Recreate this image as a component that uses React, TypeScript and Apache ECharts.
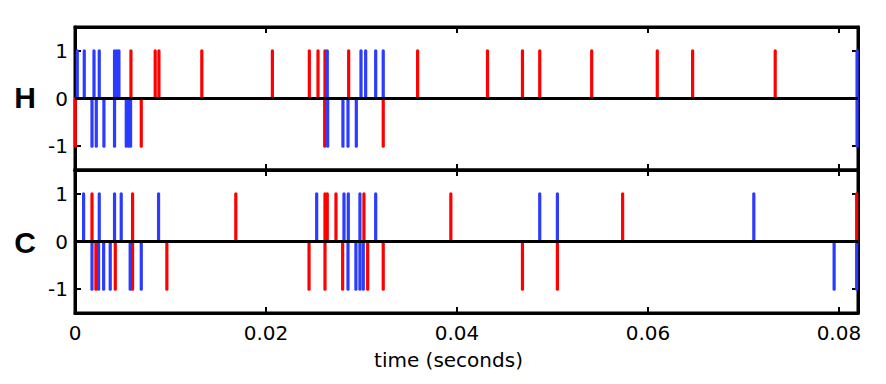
import React, { useEffect, useRef } from "react";
import * as echarts from "echarts";

// spike times (seconds)
const hRedUp = [0.00586, 0.0084, 0.00879, 0.01328, 0.02067, 0.02454, 0.02545, 0.02618, 0.02866, 0.03588, 0.0432, 0.04686, 0.04867, 0.05411, 0.06098, 0.06468, 0.07333];
const hRedDown = [0.00003, 0.00694, 0.02615, 0.03228];
const hBlueUp = [0.00024, 0.00097, 0.00199, 0.00254, 0.00414, 0.00439, 0.0046, 0.02642, 0.02995, 0.03044, 0.03149, 0.03228, 0.0819];
const hBlueDown = [0.00178, 0.00223, 0.00303, 0.00414, 0.00537, 0.00561, 0.00582, 0.02646, 0.02806, 0.02859, 0.02946, 0.0819];

const cRedUp = [0.00178, 0.00603, 0.01684, 0.02618, 0.02642, 0.02733, 0.03026, 0.03936, 0.05735, 0.08186];
const cRedDown = [0.00219, 0.00422, 0.00603, 0.00962, 0.02451, 0.02618, 0.02803, 0.03065, 0.03228, 0.04686, 0.05052];
const cBlueUp = [0.0009, 0.00254, 0.00414, 0.00484, 0.00875, 0.02531, 0.02817, 0.02862, 0.02984, 0.03149, 0.04867, 0.05052, 0.07109];
const cBlueDown = [0.00178, 0.00247, 0.003, 0.00369, 0.00578, 0.00694, 0.02859, 0.02942, 0.02984, 0.03019, 0.0795, 0.08186];

const xTicks = [0, 0.02, 0.04, 0.06, 0.08];
const yTicks = [-1, 0, 1];
const panelLabels = ["H", "C"];
const xName = "time (seconds)";

const RED = "#ff0000";
const BLUE = "#2b3bff";
const FONT = "DejaVu Sans";

function spikes(times: number[], dir: number) {
  return times.map((t) => [t, dir]);
}

function spikeSeries(data: number[][], color: string, axisIdx: number, withZero: boolean) {
  const s: any = {
    type: "custom",
    xAxisIndex: axisIdx,
    yAxisIndex: axisIdx,
    data,
    encode: { x: 0, y: 1 },
    silent: true,
    renderItem: (params: any, api: any) => {
      const p0 = api.coord([api.value(0), 0]);
      const p1 = api.coord([api.value(0), api.value(1)]);
      return {
        type: "line",
        shape: { x1: p0[0], y1: p0[1], x2: p1[0], y2: p1[1] },
        style: { stroke: color, lineWidth: 3.2, lineCap: "round" },
      };
    },
  };
  if (withZero) {
    s.markLine = {
      silent: true,
      symbol: ["none", "none"],
      label: { show: false },
      lineStyle: { color: "#000", width: 3, type: "solid" },
      data: [{ yAxis: 0 }],
    };
  }
  return s;
}

export default function App() {
  const ref = useRef<HTMLDivElement>(null);
  useEffect(() => {
    if (!ref.current) return;
    const chart = echarts.init(ref.current, null, { renderer: "svg" });
    const tick = { show: true, inside: true, length: 6, lineStyle: { color: "#000", width: 2 } };
    const line = { show: true, onZero: false, lineStyle: { color: "#000", width: 3 } };
    const xBase = (grid: number, pos: string, labels: boolean, name: boolean) => ({
      type: "value",
      gridIndex: grid,
      position: pos,
      min: 0,
      max: 0.082,
      axisLine: line,
      axisTick: { ...tick, customValues: xTicks },
      axisLabel: {
        show: labels,
        customValues: xTicks,
        margin: 10,
        fontFamily: FONT,
        fontSize: 20,
        color: "#000",
      },
      splitLine: { show: false },
      name: name ? xName : "",
      nameLocation: "middle",
      nameGap: 37,
      nameTextStyle: { fontFamily: FONT, fontSize: 20, color: "#000", padding: [0, 36, 0, 0] },
    });
    const yBase = (grid: number, pos: string, labels: boolean) => ({
      type: "value",
      gridIndex: grid,
      position: pos,
      min: -1.5,
      max: 1.5,
      axisLine: line,
      axisTick: { ...tick, customValues: yTicks },
      axisLabel: {
        show: labels,
        customValues: yTicks,
        margin: 7,
        fontFamily: FONT,
        fontSize: 20,
        color: "#000",
      },
      splitLine: { show: false },
    });
    chart.setOption({
      animation: false,
      backgroundColor: "#fff",
      grid: [
        { left: 75, right: 28, top: 27, height: 143, show: true, borderColor: "#000", borderWidth: 3 },
        { left: 75, right: 28, top: 170, height: 143, show: true, borderColor: "#000", borderWidth: 3 },
      ],
      xAxis: [
        xBase(0, "bottom", false, false),
        xBase(1, "bottom", true, true),
        xBase(0, "top", false, false),
        xBase(1, "top", false, false),
      ],
      yAxis: [
        yBase(0, "left", true),
        yBase(1, "left", true),
        yBase(0, "right", false),
        yBase(1, "right", false),
      ],
      series: [
        spikeSeries([...spikes(hRedUp, 1), ...spikes(hRedDown, -1)], RED, 0, false),
        spikeSeries([...spikes(hBlueUp, 1), ...spikes(hBlueDown, -1)], BLUE, 0, true),
        spikeSeries([...spikes(cRedUp, 1), ...spikes(cRedDown, -1)], RED, 1, false),
        spikeSeries([...spikes(cBlueUp, 1), ...spikes(cBlueDown, -1)], BLUE, 1, true),
      ],
      graphic: [
        {
          type: "text",
          x: 25,
          y: 97,
          style: {
            text: panelLabels[0],
            fontFamily: "Liberation Sans",
            fontSize: 30,
            fontWeight: "bold",
            fill: "#000",
            textAlign: "center",
            textVerticalAlign: "middle",
          },
        },
        {
          type: "text",
          x: 25,
          y: 242,
          style: {
            text: panelLabels[1],
            fontFamily: "Liberation Sans",
            fontSize: 30,
            fontWeight: "bold",
            fill: "#000",
            textAlign: "center",
            textVerticalAlign: "middle",
          },
        },
      ],
    });
    return () => chart.dispose();
  }, []);
  return (
    <div
      ref={ref}
      style={{ position: "fixed", left: 0, top: 0, width: 886, height: 384, background: "#fff" }}
    />
  );
}
